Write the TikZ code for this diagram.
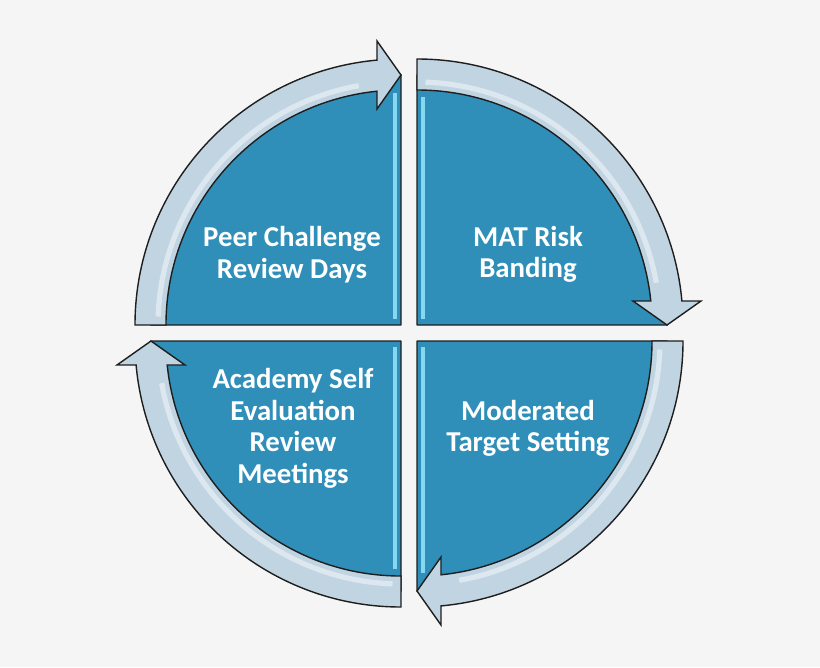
\documentclass[tikz,border=0pt]{standalone}
\usepackage{fontspec}
\setmainfont{Carlito}
\usepackage{tikz}

\definecolor{backgray}{HTML}{F5F5F5}
\definecolor{sectorblue}{HTML}{2F8FB8}
\definecolor{bandgray}{HTML}{C0D4E2}
\definecolor{bevelcyan}{HTML}{86D8F2}
\definecolor{edgegray}{HTML}{1E1E1E}

\begin{document}
\begin{tikzpicture}[x=0.02cm,y=0.02cm]

	\tikzstyle sector=[fill=sectorblue, draw=edgegray, line width=0.8pt, line join=round];
	\tikzstyle band=[fill=bandgray, draw=edgegray, line width=0.8pt, line join=miter];
	\tikzstyle band shine=[white, opacity=.45, line width=3pt];
	\tikzstyle bevel=[bevelcyan, line width=2.2pt];
	\tikzstyle label text=[text=white, font=\fontsize{16.4}{18}\selectfont\bfseries, align=center];

	\fill[backgray] (-409,-334) rectangle (411,333);
	\useasboundingbox (-409,-334) rectangle (411,333);

	% one quarter, turned round the middle four times
	\foreach \r in {0,-90,-180,-270}
	{
		\begin{scope}[rotate=\r]
			\draw[sector] (-8,8) -- ++(180:250) arc[start angle=180, end angle=90, radius=250] -- cycle;
			\draw[band] (-8,8) ++(180:266) arc[start angle=180, end angle=95.18, radius=266]
				-- (-32,292) -- (-8,258) -- (-32,224) -- (-32,241.8)
				arc[start angle=95.86, end angle=180, radius=235] -- cycle;
			\draw[band shine] (-8,8) ++(178:243) arc[start angle=178, end angle=100, radius=243];
		\end{scope}
	}

	\foreach \x/\ylow/\yhigh in {-14/14/240,14/14/236,14/-14/-240,-14/-14/-236}
		\draw[bevel] (\x,\ylow) -- (\x,\yhigh);

	\node[label text] (peer) at (-117,78.5) {Peer Challenge\\Review Days};
	\node[label text] (risk) at (119,78.5) {MAT Risk\\Banding};
	\node[label text] (target) at (119,-95.5) {Moderated\\Target Setting};
	\node[label text] (self) at (-116,-95.5) {Academy Self\\Evaluation\\Review\\Meetings};

\end{tikzpicture}
\end{document}
